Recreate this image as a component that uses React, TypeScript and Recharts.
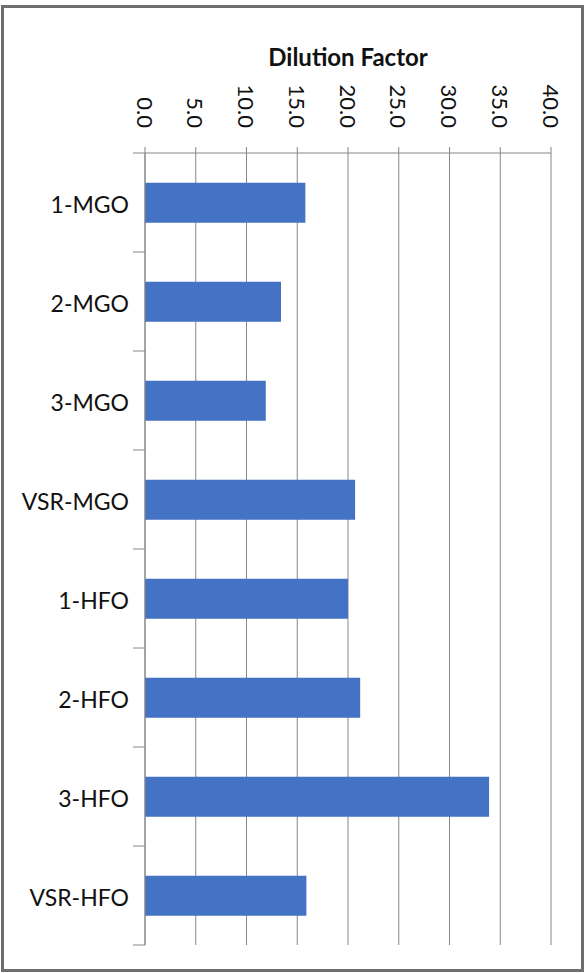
import React from "react";
import { BarChart, Bar, XAxis, YAxis, CartesianGrid, Label } from "recharts";

// Fuel samples and their measured dilution factors
const categories = ["1-MGO", "2-MGO", "3-MGO", "VSR-MGO", "1-HFO", "2-HFO", "3-HFO", "VSR-HFO"];
const dilutionFactor = [15.8, 13.4, 11.9, 20.7, 20.0, 21.2, 33.9, 15.9];
const xTicks = [0, 5, 10, 15, 20, 25, 30, 35, 40];
const axisTitle = "Dilution Factor";

const data = categories.map((name, i) => ({ name, value: dilutionFactor[i] }));

const FONT = "Lato, 'Open Sans', sans-serif";
const GRID = "#868686";
const BAR = "#4472C4";

const Y_TICK_SIZE = 12;
const Y_TICK_MARGIN = 4;
const CHART_W = 586;
const CHART_H = 973;
const MARGIN = { top: 0, right: 35, bottom: 28, left: 0 };
const X_AXIS_H = 153;

// Rotated value labels above the top axis (read top to bottom)
const XTick = (props: any) => {
  const { x, y, payload } = props;
  return (
    <text
      x={x}
      y={y}
      transform={`rotate(90, ${x}, ${y})`}
      textAnchor="end"
      dominantBaseline="central"
      fontFamily={FONT}
      fontSize={22}
      fill="#111"
    >
      {Number(payload.value).toFixed(1)}
    </text>
  );
};

// Category labels with tick marks placed on the band boundaries
const YTick = (props: any) => {
  const { x, y, payload, index } = props;
  const plotH = CHART_H - MARGIN.top - MARGIN.bottom - X_AXIS_H;
  const half =
    payload && typeof payload.offset === "number" && payload.offset > 0
      ? payload.offset
      : plotH / categories.length / 2;
  const x2 = x + Y_TICK_MARGIN + Y_TICK_SIZE;
  const x1 = x2 - 12;
  return (
    <g>
      {index === 0 && <line x1={x1} x2={x2} y1={y - half} y2={y - half} stroke={GRID} strokeWidth={1} />}
      <line x1={x1} x2={x2} y1={y + half} y2={y + half} stroke={GRID} strokeWidth={1} />
      <text
        x={x}
        y={y + 1}
        textAnchor="end"
        dominantBaseline="central"
        fontFamily={FONT}
        fontSize={23}
        fill="#111"
      >
        {payload.value}
      </text>
    </g>
  );
};

const Title = (props: any) => {
  const vb = props.viewBox || { x: 145, y: 0, width: 406, height: X_AXIS_H };
  return (
    <text
      x={vb.x + vb.width / 2}
      y={vb.y + 66}
      textAnchor="middle"
      fontFamily={FONT}
      fontWeight="bold"
      fontSize={24}
      fill="#111"
    >
      {axisTitle}
    </text>
  );
};

export default function App() {
  return (
    <div style={{ position: "absolute", left: 0, top: 0, width: CHART_W, height: CHART_H, background: "#fff" }}>
      <div
        style={{
          position: "absolute",
          left: 1,
          top: 5,
          width: 583,
          height: 967,
          border: "3px solid #6e6e6e",
          boxSizing: "border-box",
        }}
      />
      <div style={{ position: "absolute", left: 0, top: 0 }}>
        <BarChart
          width={CHART_W}
          height={CHART_H}
          data={data}
          layout="vertical"
          margin={MARGIN}
          barCategoryGap="30%"
        >
          <CartesianGrid horizontal={false} stroke={GRID} strokeWidth={1} />
          <XAxis
            type="number"
            orientation="top"
            domain={[0, 40]}
            ticks={xTicks}
            height={X_AXIS_H}
            interval={0}
            tickSize={6}
            tickMargin={19}
            axisLine={{ stroke: GRID }}
            tickLine={{ stroke: GRID }}
            tick={<XTick />}
          >
            <Label content={<Title />} />
          </XAxis>
          <YAxis
            type="category"
            dataKey="name"
            width={145}
            interval={0}
            tickSize={Y_TICK_SIZE}
            tickMargin={Y_TICK_MARGIN}
            axisLine={{ stroke: GRID }}
            tickLine={false}
            tick={<YTick />}
          />
          <Bar dataKey="value" fill={BAR} isAnimationActive={false} />
        </BarChart>
      </div>
    </div>
  );
}
